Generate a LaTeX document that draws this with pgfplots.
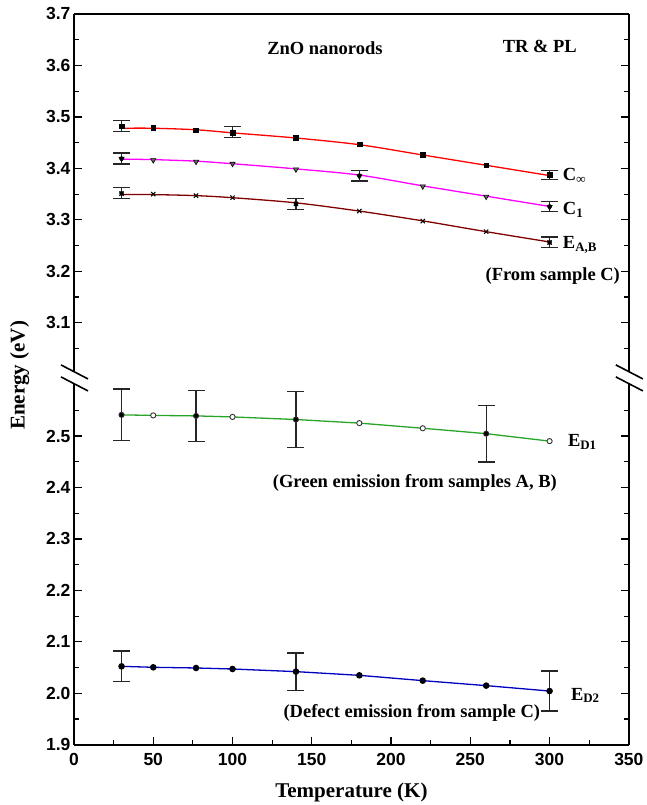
\documentclass[border=0pt]{standalone}
\usepackage{fontspec}
\setmainfont{Liberation Serif}
\setsansfont{Liberation Sans}
\usepackage{pgfplots}
\pgfplotsset{compat=1.18}

\definecolor{cinf}{RGB}{255,0,0}
\definecolor{cone}{RGB}{255,0,255}
\definecolor{eab}{RGB}{128,0,0}
\definecolor{ed1}{RGB}{40,165,40}
\definecolor{ed2}{RGB}{0,0,190}

\tikzset{ann/.style={font=\bfseries\fontsize{18.5}{18.5}\selectfont, inner sep=0pt}}
\pgfplotsset{
  brk/.style={
    scale only axis, width=555pt,
    xmin=0, xmax=350,
    axis line style={line width=1.6pt, -},
    tick align=inside,
    major tick length=8pt, minor tick length=5pt,
    every tick/.style={black, line width=1.2pt},
    tick label style={font=\sffamily\bfseries\fontsize{17.5}{17.5}\selectfont},
    /pgf/number format/assume math mode=true,
    yticklabel style={/pgf/number format/.cd, fixed, fixed zerofill, precision=1},
    yticklabel pos=left,
    clip=false,
  },
  ebar/.style={only marks, mark=none, forget plot,
    error bars/.cd, y dir=both, y explicit,
    error bar style={line width=1.3pt, black!85},
    error mark options={rotate=90, mark size=8.5pt, line width=1.3pt, black!85}},
}

\begin{document}
\begin{tikzpicture}
% lower part
\begin{axis}[brk, height=364pt,
  ymin=1.9, ymax=2.607,
  axis x line*=bottom, axis y line*=box,
  xtick={0,50,100,150,200,250,300,350},
  minor xtick={25,75,125,175,225,275,325},
  xticklabel style={yshift=-5pt},
  ytick={1.9,2.0,2.1,2.2,2.3,2.4,2.5},
  minor ytick={1.95,2.05,2.15,2.25,2.35,2.45,2.55},
  xlabel={Temperature (K)},
  xlabel style={font=\bfseries\fontsize{21}{21}\selectfont, yshift=-10pt},
  ylabel={Energy (eV)},
  every axis y label/.style={at={(ticklabel cs:1.015)}, rotate=90, anchor=near ticklabel,
    font=\bfseries\fontsize{21}{21}\selectfont, yshift=10pt},
]
\addplot[ed1, line width=1.3pt, mark=*, mark size=2.6pt,
  mark options={draw=black!80, fill=white, line width=0.9pt}]
  coordinates {(30,2.541)(50,2.540)(77,2.539)(100,2.537)(140,2.532)(180,2.525)(220,2.515)(260,2.5045)(300,2.490)};
\addplot[ebar] coordinates {(30,2.541) +- (0,0.050) (77,2.539) +- (0,0.050) (140,2.532) +- (0,0.055) (260,2.5045) +- (0,0.055)};

\addplot[ed2, line width=1.3pt, mark=*, mark size=2.6pt, mark options={draw=black, fill=black!85!blue}]
  coordinates {(30,2.0525)(50,2.0506)(77,2.0493)(100,2.0473)(140,2.0422)(180,2.035)(220,2.0247)(260,2.015)(300,2.0045)};
\addplot[ebar] coordinates {(30,2.0525) +- (0,0.030) (140,2.0422) +- (0,0.036) (300,2.0045) +- (0,0.039)};

\node[ann, anchor=west] at (axis cs:311.5,2.488) {E\textsubscript{D1}};
\node[ann] at (axis cs:215,2.4086) {(Green emission from samples A, B)};
\node[ann, anchor=west] at (axis cs:313.4,1.996) {E\textsubscript{D2}};
\node[ann] at (axis cs:213.1,1.961) {(Defect emission from sample C)};
\end{axis}

% upper part
\begin{axis}[brk, at={(0,364pt)}, height=367pt,
  ymin=2.987, ymax=3.7,
  axis x line*=top, axis y line*=box,
  xtick=\empty, minor xtick={},
  ytick={3.1,3.2,3.3,3.4,3.5,3.6,3.7},
  minor ytick={3.05,3.15,3.25,3.35,3.45,3.55,3.65},
]
% C infinity
\addplot[cinf, line width=1.3pt, smooth]
  coordinates {(30,3.478)(50,3.478)(77,3.475)(100,3.469)(140,3.459)(180,3.446)(220,3.426)(260,3.406)(300,3.386)};
\addplot[only marks, mark=square*, mark size=2.4pt, mark options={black}]
  coordinates {(30,3.482)(50,3.479)(77,3.474)(100,3.470)(140,3.460)(180,3.447)(220,3.426)(260,3.406)(300,3.387)};
\addplot[ebar] coordinates {(30,3.482) +- (0,0.011) (100,3.471) +- (0,0.0105) (300,3.387) +- (0,0.009)};
% C1
\addplot[cone, line width=1.3pt, smooth]
  coordinates {(30,3.418)(50,3.417)(77,3.414)(100,3.409)(140,3.399)(180,3.387)(220,3.366)(260,3.346)(300,3.326)};
\addplot[only marks, mark=triangle*, mark size=3pt, mark options={rotate=180, draw=black, fill=black!60, line width=0.6pt}]
  coordinates {(30,3.419)(50,3.416)(77,3.413)(100,3.409)(140,3.398)(180,3.385)(220,3.365)(260,3.345)(300,3.325)};
\addplot[ebar] coordinates {(30,3.419) +- (0,0.0107) (180,3.386) +- (0,0.0104) (300,3.326) +- (0,0.010)};
% E_A,B
\addplot[eab, line width=1.3pt, smooth]
  coordinates {(30,3.349)(50,3.349)(77,3.347)(100,3.343)(140,3.333)(180,3.317)(220,3.298)(260,3.277)(300,3.257)};
\addplot[only marks, mark=x, mark size=3pt, mark options={black, line width=1pt}]
  coordinates {(30,3.351)(50,3.350)(77,3.347)(100,3.343)(140,3.331)(180,3.317)(220,3.2975)(260,3.277)(300,3.256)};
\addplot[ebar] coordinates {(30,3.3515) +- (0,0.0107) (140,3.331) +- (0,0.0103) (300,3.256) +- (0,0.0104)};

\node[ann] at (axis cs:158.3,3.634) {ZnO nanorods};
\node[ann] at (axis cs:293.8,3.636) {TR \& PL};
\node[ann, anchor=west] at (axis cs:308.3,3.385) {C\textsubscript{∞}};
\node[ann, anchor=west] at (axis cs:308.3,3.319) {C\textsubscript{1}};
\node[ann, anchor=west] at (axis cs:308.3,3.251) {E\textsubscript{A,B}};
\node[ann] at (axis cs:302,3.191) {(From sample C)};
\end{axis}

% axis break marks
\foreach \xx in {0pt,555pt}{
  \fill[white] ([shift={(\xx,0)}]-13pt,380pt) -- ([shift={(\xx,0)}]14pt,366pt) -- ([shift={(\xx,0)}]14pt,354pt) -- ([shift={(\xx,0)}]-13pt,368pt) -- cycle;
  \draw[line width=1.6pt] ([shift={(\xx,0)}]-13pt,380pt) -- ([shift={(\xx,0)}]14pt,366pt);
  \draw[line width=1.6pt] ([shift={(\xx,0)}]-13pt,368pt) -- ([shift={(\xx,0)}]14pt,354pt);
}
\path (-74pt,-60pt) rectangle (571pt,745pt);
\end{tikzpicture}
\end{document}
